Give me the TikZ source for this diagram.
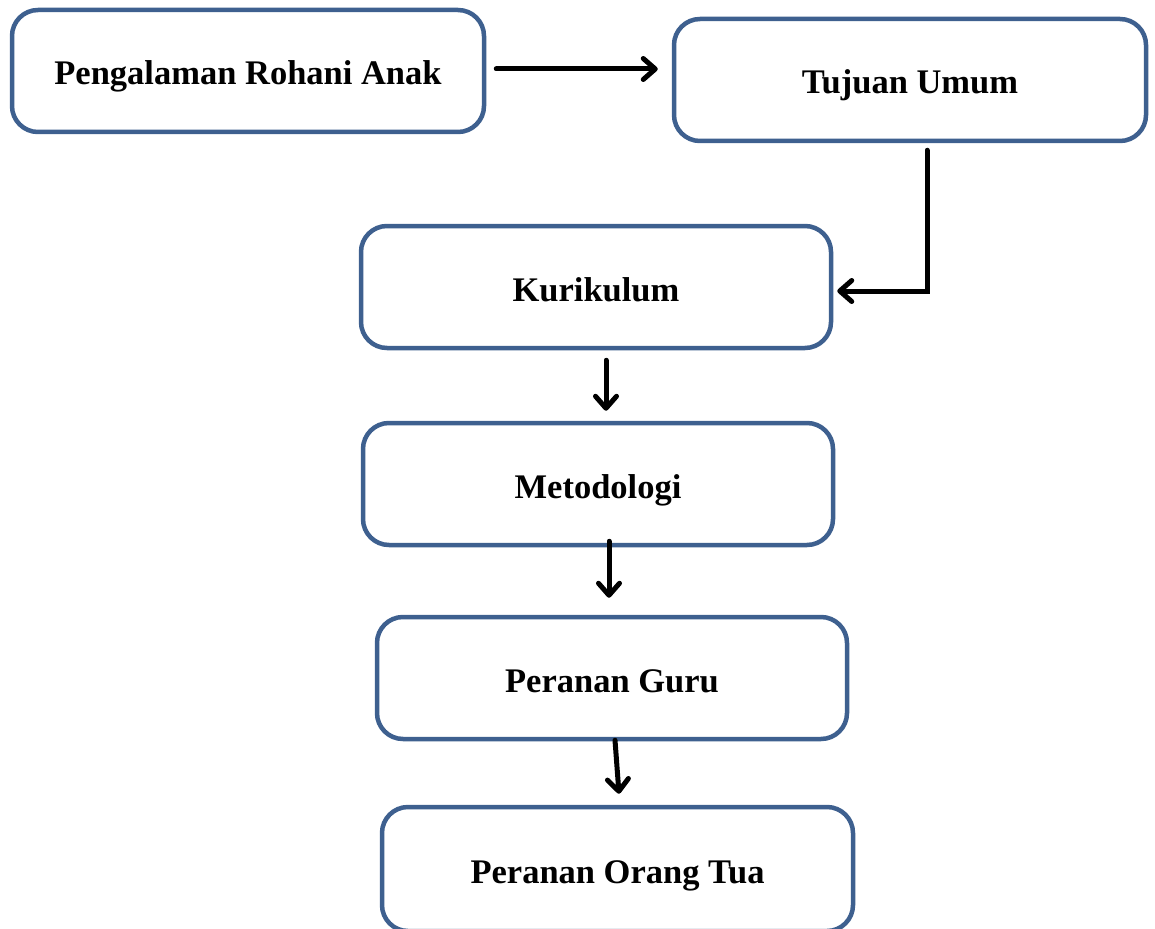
\documentclass[tikz,border=0pt]{standalone}
\usepackage{fontspec}
\setmainfont{Liberation Serif}
\usetikzlibrary{arrows.meta}
\definecolor{boxblue}{RGB}{62,96,143}
\tikzset{
  flowbox/.style={draw=boxblue, line width=4.5pt, rounded corners=26pt, fill=white,
    minimum width=#1, minimum height=122pt, inner sep=0pt, align=center,
    text height=30pt, text depth=2pt,
    font=\fontsize{34.5}{40}\selectfont\bfseries},
  flowbox/.default=471pt,
  conn/.style={line width=5pt, black, line cap=round,
    -{Straight Barb[length=12pt,width=21pt,line width=5pt,round]}}
}
\begin{document}
\begin{tikzpicture}[x=1pt,y=-1pt]
\useasboundingbox (0,0) rectangle (1155,928);
\node[flowbox=472pt] (b1) at (248,71) {Pengalaman Rohani Anak};
\node[flowbox=472pt] (b2) at (910,80) {Tujuan Umum};
\node[flowbox=470pt] (b3) at (596,287) {Kurikulum};
\node[flowbox=470pt] (b4) at (598,484) {Metodologi};
\node[flowbox=470pt] (b5) at (612,678) {Peranan Guru};
\node[flowbox=471pt, minimum height=124pt] (b6) at (617.5,869) {Peranan Orang Tua};
\draw[conn, shorten <=10pt, shorten >=14pt] ([yshift=2pt]b1.east) -- ([yshift=2pt]b2.west |- b1.east);
\draw[conn] ([xshift=17pt,yshift=-7pt]b2.south) |- ([xshift=4pt,yshift=-4pt]b3.east);
\draw[conn] ([xshift=10pt,yshift=-10pt]b3.south) -- ([xshift=10pt,yshift=10pt]b3.south |- b4.north);
\draw[conn] ([xshift=11pt,yshift=6pt]b4.south) -- ([xshift=11pt,yshift=17pt]b4.south |- b5.north);
\draw[conn] ([xshift=3pt,yshift=1pt]b5.south) -- ([xshift=1.5pt,yshift=11pt]b6.north);
\end{tikzpicture}
\end{document}
